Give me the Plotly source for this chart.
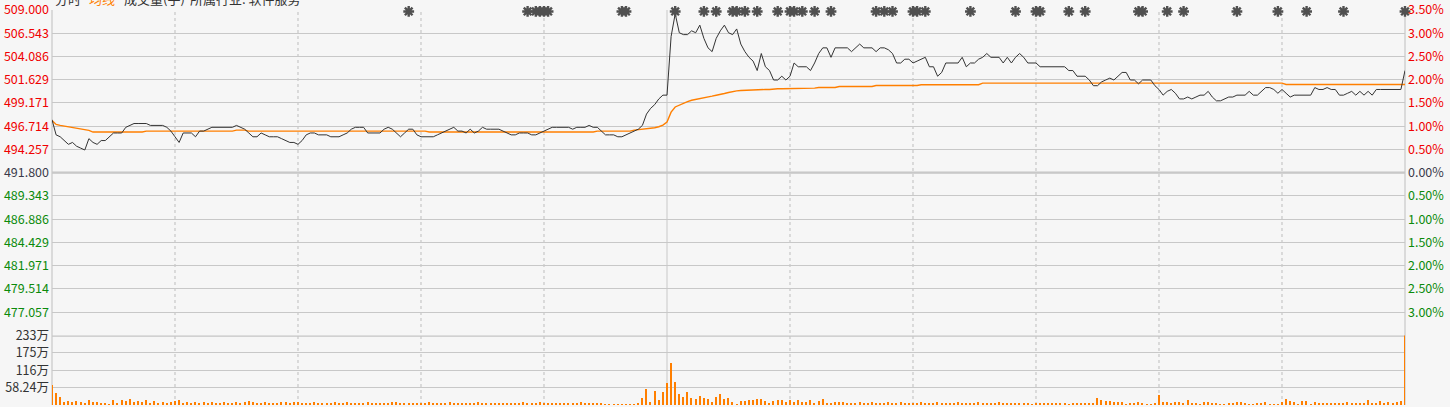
import plotly.graph_objects as go

# ---------------- data ----------------
prev_close = 491.8

price = [
    497.4, 495.8, 495.6, 495.2, 494.8, 495.0, 494.6, 494.4, 494.2, 495.4, 495.0,
    494.8, 495.2, 495.2, 495.6, 496.0, 496.0, 496.0, 496.6, 496.8, 497.0,
    497.0, 497.0, 497.0, 496.8, 496.8, 496.8, 496.8, 496.6, 496.2, 495.6,
    495.0, 496.0, 496.0, 496.0, 495.6, 496.2, 496.2, 496.4, 496.6, 496.6,
    496.6, 496.6, 496.6, 496.6, 496.8, 496.6, 496.4, 496.0, 495.6, 495.6,
    496.0, 495.8, 495.6, 495.6, 495.6, 495.4, 495.2, 495.0, 495.0, 494.8,
    495.2, 495.8, 496.0, 496.0, 495.8, 495.8, 495.8, 495.6, 495.6, 495.6,
    495.8, 496.0, 496.4, 496.6, 496.6, 496.6, 496.0, 496.0, 496.0, 496.0,
    496.4, 496.6, 496.4, 496.0, 495.6, 496.0, 496.4, 496.4, 495.8, 495.6,
    495.6, 495.6, 495.6, 495.8, 496.0, 496.2, 496.4, 496.6, 496.2, 496.2,
    496.0, 496.4, 496.0, 496.2, 496.6, 496.4, 496.4, 496.4, 496.4, 496.2,
    496.0, 495.8, 495.8, 496.0, 496.0, 496.0, 495.8, 495.8, 496.0, 496.2,
    496.4, 496.6, 496.6, 496.6, 496.6, 496.6, 496.4, 496.6, 496.6, 496.6,
    496.8, 496.6, 496.6, 496.2, 495.8, 495.8, 495.8, 495.6, 495.6, 495.8,
    496.0, 496.2, 496.4, 496.8, 498.0, 498.6, 499.0, 499.6, 500.0, 500.0,
    506.2, 508.6, 506.6, 506.4, 506.4, 506.8, 506.6, 507.4, 506.0, 505.0,
    504.6, 506.0, 506.8, 507.4, 506.6, 506.4, 507.0, 505.4, 504.6, 504.0,
    503.6, 502.6, 504.4, 503.0, 502.6, 501.6, 501.6, 502.0, 501.6, 502.0,
    503.4, 503.0, 503.0, 503.0, 502.6, 503.4, 504.4, 505.0, 505.0, 504.0,
    505.0, 505.0, 505.0, 505.0, 504.6, 505.0, 505.4, 505.0, 505.0, 505.0,
    504.6, 505.0, 505.0, 504.8, 504.4, 503.4, 503.4, 503.8, 503.8, 503.4,
    503.6, 503.8, 504.0, 503.0, 503.0, 502.0, 502.4, 503.4, 503.4, 503.4,
    503.4, 504.0, 503.0, 503.4, 503.4, 503.8, 504.0, 504.4, 504.0, 504.0,
    504.0, 503.4, 504.0, 503.4, 504.0, 504.4, 504.0, 503.4, 503.4, 503.4,
    503.0, 503.0, 503.0, 503.0, 503.0, 503.0, 503.0, 502.6, 502.6, 502.0,
    502.0, 502.0, 501.6, 501.0, 501.0, 501.4, 501.6, 501.8, 501.6, 502.0,
    502.4, 502.4, 501.6, 501.6, 501.2, 501.6, 501.6, 501.6, 501.0, 500.6,
    500.0, 500.4, 500.6, 500.2, 499.6, 499.6, 499.8, 499.6, 499.8, 500.0,
    500.0, 500.4, 499.8, 499.4, 499.4, 499.6, 499.8, 499.8, 500.0, 500.0,
    500.0, 500.4, 500.0, 500.0, 500.4, 500.8, 500.8, 500.6, 500.2, 500.6,
    500.2, 499.8, 500.0, 500.0, 500.0, 500.0, 500.0, 500.8, 500.6, 500.6,
    500.8, 500.6, 500.6, 500.0, 500.0, 500.2, 500.4, 500.0, 500.4, 500.0,
    500.4, 500.0, 500.6, 500.6, 500.6, 500.6, 500.6, 500.6, 500.6, 502.6,
]

avg_line = (
    [497.33, 496.9, 496.8, 496.73, 496.66, 496.59, 496.5, 496.41, 496.34, 496.27]
    + [496.1] * 13 + [496.2] * 22 + [496.3] * 3 + [496.2] * 44 + [496.1] * 41 + [496.2] * 9
    + [496.3, 496.34, 496.38, 496.41, 496.48, 496.55, 496.66, 496.84, 497.16,
       498.2, 498.75, 498.96, 499.14, 499.32, 499.46, 499.53, 499.64, 499.74,
       499.82, 499.89, 499.99, 500.06, 500.17, 500.28, 500.38, 500.45, 500.49]
    + [500.52] * 3 + [500.6] * 4 + [500.67] * 6 + [500.74] * 5 + [500.81] * 5
    + [500.92] * 9 + [501.02] * 11 + [501.1] * 15 + [501.27] * 74 + [501.13] * 30
)

# volume in 万 (10k), one value per minute
volume = [
    66, 40, 24, 9, 11, 9, 11, 9, 7, 16,          # 0-9
    9, 9, 7, 4, 2, 16, 7, 16, 12, 19,            # 10-19
    9, 12, 9, 16, 4, 12, 6, 8, 5, 9,             # 20-29
    12, 16, 7, 9, 6, 10, 5, 8, 6, 9,             # 30-39
    7, 5, 9, 6, 7, 10, 6, 8, 12, 9,              # 40-49
    7, 6, 8, 5, 6, 7, 9, 8, 6, 10,               # 50-59
    9, 7, 6, 5, 8, 6, 7, 5, 6, 8,                # 60-69
    6, 7, 9, 6, 5, 7, 6, 8, 5, 6,                # 70-79
    7, 6, 5, 8, 9, 6, 7, 5, 6, 7,                # 80-89
    5, 6, 8, 7, 5, 6, 7, 9, 6, 5,                # 90-99
    6, 7, 5, 6, 8, 6, 5, 7, 6, 5,                # 100-109
    4, 6, 5, 7, 6, 8, 5, 6, 7, 9,                # 110-119
    6, 5, 7, 6, 5, 6, 7, 5, 6, 8,                # 120-129
    6, 5, 4, 3,                                  # 130-133
    7, 2, 2, 2, 2, 2, 2, 2, 2, 7,                # 134-143
    22, 53, 9, 46, 17, 43, 73, 140, 76, 36,      # 144-153
    26, 43, 22, 19, 29, 22, 19, 9, 26, 36,       # 154-163
    19, 22, 9, 2, 12, 12, 16, 16, 19, 19,        # 164-173
    12, 6, 12, 16, 16, 9, 16, 9, 16, 9,          # 174-183
    9, 16, 6, 12, 19, 6, 6, 9, 9, 9,             # 184-193
    6,                                           # 194
    7, 6, 8, 5, 6, 9, 7, 6, 5, 8,                # 195-204
    6, 7, 9, 6, 5, 7, 6, 8, 5, 6,                # 205-214
    7, 9, 6, 5, 6, 7, 8, 6, 5, 7,                # 215-224
    6, 9, 5, 6, 7, 6, 8, 5, 4, 6,                # 225-234
    5, 4, 6, 5, 2, 5, 5, 4, 5,                   # 235-243
    6, 6, 5, 4, 2, 5, 5, 4, 5, 6, 6,             # 244-254
    22, 16, 12, 12, 9, 9, 9,                     # 255-261
    2, 6, 6, 9, 6, 2, 2, 6, 31,                  # 262-270
    9, 9, 6, 9, 9, 6, 16, 6, 6, 2,               # 271-280
    9, 9, 6, 6, 2, 2, 6, 6, 9, 9,                # 281-290
    6, 2, 2, 6, 6, 9, 2, 2, 2, 9,                # 291-300
    19, 12, 9, 2, 12, 12, 2, 9, 6, 6,            # 301-310
    6, 6, 6, 6, 6, 9, 6, 6, 6, 6,                # 311-320
    16, 6, 6, 12, 6, 9, 6, 9, 12, 300,           # 321-330
]

minutes = list(range(len(price)))

star_minutes = [87, 116, 118, 119, 120, 121, 139, 140, 152, 159, 162, 166, 167, 169,
                172, 177, 180, 181, 183, 186, 190, 201, 203, 205, 210, 211, 213, 224,
                235, 240, 241, 248, 252, 265, 266, 272, 276, 289, 299, 306, 315, 330]
star_level = 508.85

price_ticks = [509.000, 506.543, 504.086, 501.629, 499.171, 496.714, 494.257,
               491.800, 489.343, 486.886, 484.429, 481.971, 479.514, 477.057]
price_labels = ["509.000", "506.543", "504.086", "501.629", "499.171", "496.714", "494.257",
                "491.800", "489.343", "486.886", "484.429", "481.971", "479.514", "477.057"]
pct_labels = ["3.50%", "3.00%", "2.50%", "2.00%", "1.50%", "1.00%", "0.50%",
              "0.00%", "0.50%", "1.00%", "1.50%", "2.00%", "2.50%", "3.00%"]
vol_ticks = [58.24, 116.48, 174.72, 232.96]
vol_labels = ["58.24万", "116万", "175万", "233万"]
grid_minutes = [30, 60, 90, 120, 180, 210, 240, 270, 300]
session_break = 150

# ---------------- style ----------------
RED = "#f00000"
GREEN = "#0b8a0b"
MID = "#3a3a4a"
ORANGE = "#ff7f00"
GRID = "#c8c8c8"
BG = "#f6f6f6"
FONT = "Noto Sans CJK SC"


def colorize(labels, ref_index):
    out = []
    for k, t in enumerate(labels):
        c = RED if k < ref_index else (MID if k == ref_index else GREEN)
        out.append(f'<span style="color:{c}">{t}</span>')
    return out


price_lo, price_hi = 474.6, 509.002
vol_hi = 232.96
split = 0.1762

fig = go.Figure()

fig.add_trace(go.Bar(x=minutes, y=volume, xaxis="x", yaxis="y2",
                     marker=dict(color=ORANGE, line=dict(width=0)), width=0.3,
                     showlegend=False, hoverinfo="skip"))
fig.add_trace(go.Scatter(x=minutes, y=avg_line, xaxis="x", yaxis="y", mode="lines",
                         line=dict(color=ORANGE, width=1.4), showlegend=False))
fig.add_trace(go.Scatter(x=minutes, y=price, xaxis="x", yaxis="y", mode="lines",
                         line=dict(color="#333333", width=1), showlegend=False))
fig.add_trace(go.Scatter(x=star_minutes, y=[star_level] * len(star_minutes), xaxis="x", yaxis="y",
                         mode="markers", cliponaxis=False,
                         marker=dict(symbol="asterisk-open", size=9, color="#505050",
                                     line=dict(color="#505050", width=2.4)),
                         showlegend=False))
# invisible trace to activate right percent axis
fig.add_trace(go.Scatter(x=[0], y=[prev_close], xaxis="x", yaxis="y3", mode="markers",
                         marker=dict(opacity=0), showlegend=False, hoverinfo="skip"))

shapes = []
for m in grid_minutes:
    shapes.append(dict(type="line", xref="x", yref="paper", x0=m, x1=m, y0=0, y1=1,
                       line=dict(color="#bdbdbd", width=1, dash="dot"), layer="below"))
shapes.append(dict(type="line", xref="x", yref="paper", x0=session_break, x1=session_break,
                   y0=0, y1=1, line=dict(color=GRID, width=1), layer="below"))
# prev close line and panel separator (thick)
shapes.append(dict(type="line", xref="paper", yref="y", x0=0, x1=1, y0=prev_close, y1=prev_close,
                   line=dict(color="#c4c4c4", width=2.2), layer="below"))
shapes.append(dict(type="line", xref="paper", yref="y2", x0=0, x1=1, y0=vol_hi, y1=vol_hi,
                   line=dict(color="#c4c4c4", width=2.6), layer="below"))
# borders
for xb in (0, 1):
    shapes.append(dict(type="line", xref="paper", yref="paper", x0=xb, x1=xb, y0=0, y1=1,
                       line=dict(color=GRID, width=1.2), layer="below"))

fig.update_layout(
    width=1450, height=407,
    margin=dict(l=52, r=45, t=10, b=2, autoexpand=False),
    paper_bgcolor=BG, plot_bgcolor=BG,
    font=dict(family=FONT, size=12, color="#333"),
    bargap=0,
    shapes=shapes,
    xaxis=dict(domain=[0, 1], range=[0, 330], showgrid=False, zeroline=False,
               showticklabels=False, ticks="", anchor="y2", fixedrange=True, automargin=False),
    yaxis=dict(domain=[split, 1], range=[price_lo, price_hi], tickvals=price_ticks,
               ticktext=colorize(price_labels, 7), showgrid=True, gridcolor=GRID, gridwidth=1,
               zeroline=False, ticks="", side="left", tickfont=dict(size=12.5, family=FONT),
               ticklabelstandoff=2, automargin=False, ticklabeloverflow="allow"),
    yaxis3=dict(overlaying="y", side="right", range=[price_lo, price_hi], tickvals=price_ticks,
                ticktext=colorize(pct_labels, 7), showgrid=False, zeroline=False, ticks="",
                tickfont=dict(size=12.5, family=FONT), ticklabelstandoff=2, anchor="x",
                automargin=False, ticklabeloverflow="allow"),
    yaxis2=dict(domain=[0, split], range=[0, vol_hi], tickvals=vol_ticks, ticktext=vol_labels,
                showgrid=True, gridcolor=GRID, gridwidth=1, zeroline=False, ticks="",
                tickfont=dict(size=12.5, family=FONT, color="#333"), ticklabelstandoff=2,
                automargin=False, ticklabeloverflow="allow"),
)

header = [("分时", 53, "#333"), ("均线", 87, ORANGE), ("成交量(手)", 122, "#333"),
          ("所属行业: 软件服务", 188, "#333")]
for txt, px, col in header:
    fig.add_annotation(text=txt, xref="paper", yref="paper", x=(px - 52) / 1353,
                       y=1 + (10 - (-1.5)) / 395, xanchor="left", yanchor="middle",
                       showarrow=False, font=dict(size=13, color=col, family=FONT))

fig.write_html("out.html", config={"displayModeBar": False},
               post_script="document.body.style.margin='0';document.body.style.overflow='hidden';")
